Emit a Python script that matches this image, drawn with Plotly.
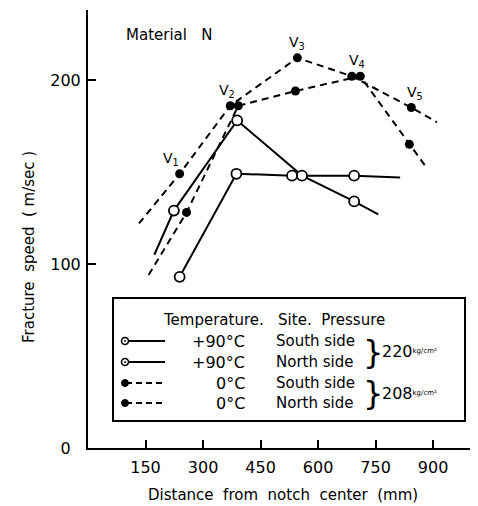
import plotly.graph_objects as go

# ---------------- data ----------------
x_ticks = [150, 300, 450, 600, 750, 900]
y_ticks = [0, 100, 200]

# +90°C, South side (open circles, solid line)
hot_s_x = [224, 389, 558, 694]
hot_s_y = [129, 178, 148, 134]
hot_s_start = [173, 105]
hot_s_end = [757, 127]

# +90°C, North side (open circles, solid line)
hot_n_x = [239, 387, 532, 694]
hot_n_y = [93, 149, 148, 148]
hot_n_start = None
hot_n_end = [814, 147]

# 0°C, South side (filled dots, dashed line)  -- gauges V1..V5
cold_s_x = [239, 371, 546, 688, 843]
cold_s_y = [149, 186, 212, 202, 185]
cold_s_start = [133, 122]
cold_s_end = [910, 177]

# 0°C, North side (filled dots, dashed line)
cold_n_x = [257, 392, 541, 710, 838]
cold_n_y = [128, 186, 194, 202, 165]
cold_n_start = [158, 94]
cold_n_end = [884, 152]

gauge_labels = ["V<sub>1</sub>", "V<sub>2</sub>", "V<sub>3</sub>", "V<sub>4</sub>", "V<sub>5</sub>"]

legend_temps = ["+90°C", "+90°C", "0°C", "0°C"]
legend_sites = ["South side", "North side", "South side", "North side"]
legend_pressures = ["220", "208"]

# ---------------- figure geometry ----------------
OFF = 8                      # default page body margin
PAGE_W, PAGE_H = 478, 506
W, H = PAGE_W - OFF, PAGE_H - OFF
PL, PR, PT, PB = 88, 478, 10, 448   # plot area in page pixels
L, R, T, B = PL - OFF, W - (PR - OFF), PT - OFF, H - (PB - OFF)
FONT = "DejaVu Sans"

fig = go.Figure()


def line_path(xs, ys, start, end):
    lx, ly = list(xs), list(ys)
    if start is not None:
        lx = [start[0]] + lx
        ly = [start[1]] + ly
    if end is not None:
        lx = lx + [end[0]]
        ly = ly + [end[1]]
    return lx, ly


series = [
    (hot_s_x, hot_s_y, hot_s_start, hot_s_end, "solid", "open"),
    (hot_n_x, hot_n_y, hot_n_start, hot_n_end, "solid", "open"),
    (cold_s_x, cold_s_y, cold_s_start, cold_s_end, "7px,5px", "filled"),
    (cold_n_x, cold_n_y, cold_n_start, cold_n_end, "7px,5px", "filled"),
]

for xs, ys, st, en, dash, mk in series:
    lx, ly = line_path(xs, ys, st, en)
    fig.add_trace(go.Scatter(x=lx, y=ly, mode="lines",
                             line=dict(color="black", width=2, dash=dash),
                             showlegend=False, hoverinfo="skip"))
for xs, ys, st, en, dash, mk in series:
    if mk == "open":
        marker = dict(symbol="circle", size=10, color="white",
                      line=dict(color="black", width=1.8))
    else:
        marker = dict(symbol="circle", size=9, color="black",
                      line=dict(color="black", width=0))
    fig.add_trace(go.Scatter(x=xs, y=ys, mode="markers", marker=marker,
                             showlegend=False, hoverinfo="skip"))

# gauge labels V1..V5 above the 0°C South side points
label_xshift = [-9, -3, 0, 5, 4]
for i, lab in enumerate(gauge_labels):
    fig.add_annotation(x=cold_s_x[i], y=cold_s_y[i], text=lab, showarrow=False,
                       xshift=label_xshift[i], yshift=15,
                       font=dict(family=FONT, size=14, color="black"))

# ---------------- pixel helpers for decorations (page pixels) ----------------
def px(x):
    return (x - PL) / (PR - PL)


def py(y):
    return (PB - y) / (PB - PT)


def text(xp, yp, s, size=14, xanchor="left", yanchor="middle", angle=0):
    fig.add_annotation(x=px(xp), y=py(yp), xref="paper", yref="paper", text=s,
                       showarrow=False, xanchor=xanchor, yanchor=yanchor,
                       textangle=angle,
                       font=dict(family=FONT, size=size, color="black"))


# Material N
text(124, 35, "Material&nbsp;&nbsp;&nbsp;N", size=15)

# axis titles
text(283, 495, "Distance&nbsp;&nbsp;from&nbsp;&nbsp;notch&nbsp;&nbsp;center&nbsp;&nbsp;(mm)",
     size=15, xanchor="center")
text(29, 247, "Fracture&nbsp;&nbsp;speed&nbsp;&nbsp;( m/sec )", size=15,
     xanchor="center", angle=-90)

# legend box
fig.add_shape(type="rect", xref="paper", yref="paper",
              x0=px(113), x1=px(465), y0=py(298), y1=py(421),
              line=dict(color="black", width=2), fillcolor="white", layer="above")

text(161, 320, "Temperature.&nbsp;&nbsp;&nbsp;Site.&nbsp;&nbsp;Pressure", size=15)

row_y = [341, 362, 383, 403]
for i in range(4):
    y = row_y[i]
    hot = i < 2
    fig.add_shape(type="line", xref="paper", yref="paper",
                  x0=px(126), x1=px(165), y0=py(y), y1=py(y),
                  line=dict(color="black", width=2, dash="solid" if hot else "6px,4px"),
                  layer="above")
    r = 3.5
    if hot:
        fig.add_shape(type="circle", xref="paper", yref="paper",
                      x0=px(125 - r), x1=px(125 + r), y0=py(y - r), y1=py(y + r),
                      line=dict(color="black", width=1.6), fillcolor="white", layer="above")
        fig.add_shape(type="circle", xref="paper", yref="paper",
                      x0=px(124.2), x1=px(125.8), y0=py(y - 0.8), y1=py(y + 0.8),
                      line=dict(color="black", width=0.5), fillcolor="black", layer="above")
    else:
        fig.add_shape(type="circle", xref="paper", yref="paper",
                      x0=px(125 - r), x1=px(125 + r), y0=py(y - r), y1=py(y + r),
                      line=dict(color="black", width=1), fillcolor="black", layer="above")
    text(247, y, legend_temps[i], size=16, xanchor="right")
    text(274, y, legend_sites[i], size=15)

# braces and pressures
for j in range(2):
    yc = (row_y[2 * j] + row_y[2 * j + 1]) / 2
    text(361, yc, "}", size=32)
    text(380, yc, legend_pressures[j] +
         "<span style='font-size:10px;fill:black;color:black'><sup>kg/cm²</sup></span>",
         size=16)

# ---------------- axes ----------------
fig.update_xaxes(range=[0, 1017], showline=True, linecolor="black", linewidth=2,
                 ticks="inside", ticklen=8, tickwidth=1.5, tickcolor="black",
                 tickvals=x_ticks, ticktext=[str(v) for v in x_ticks],
                 tickfont=dict(family=FONT, size=16, color="black"),
                 ticklabelstandoff=4,
                 showgrid=False, zeroline=False)
fig.update_yaxes(range=[0, 238], showline=True, linecolor="black", linewidth=2,
                 ticks="inside", ticklen=8, tickwidth=1.5, tickcolor="black",
                 tickvals=y_ticks,
                 ticktext=[("0" + "\u00a0" * 2) if v == 0 else str(v) for v in y_ticks],
                 tickfont=dict(family=FONT, size=16, color="black"),
                 ticklabelstandoff=2,
                 showgrid=False, zeroline=False)

fig.update_layout(width=W, height=H, margin=dict(l=L, r=R, t=T, b=B, autoexpand=False),
                  paper_bgcolor="white", plot_bgcolor="white", showlegend=False)

fig.write_html("out.html")
